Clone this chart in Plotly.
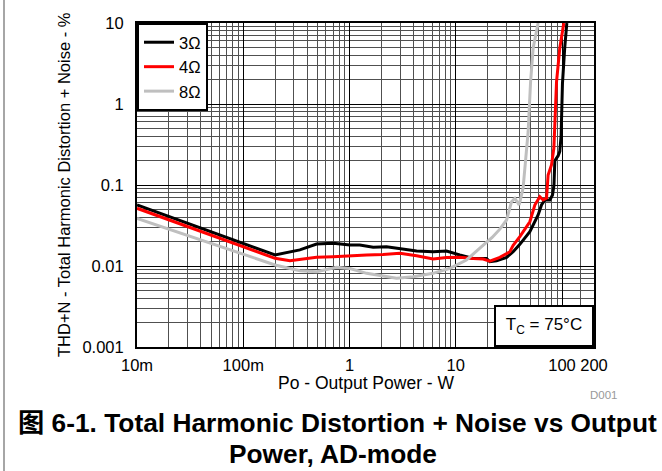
import plotly.graph_objects as go

# ---- data ----
p_3ohm = [0.01, 0.199, 0.341, 0.49, 0.703, 1.01, 1.25, 1.67, 2.23, 2.98, 4.28, 6.12, 8.19,
          10.9, 14.6, 19.5, 20.9, 24.2, 30.1, 34.7, 40.1, 49.8, 59.6, 64.1, 68.9, 76.8,
          81.4, 84.0, 85.6, 92.0, 95.3, 98.0, 101, 106, 111]
thd_3ohm = [0.0566, 0.0137, 0.0158, 0.0187, 0.0191, 0.0182, 0.0182, 0.0170, 0.0173, 0.0165,
            0.0153, 0.0150, 0.0153, 0.0137, 0.0124, 0.0124, 0.0113, 0.0116, 0.0128, 0.0150,
            0.0185, 0.0265, 0.0426, 0.0566, 0.0653, 0.0653, 0.0753, 0.10, 0.20, 0.23, 0.26,
            0.40, 1.8, 4.9, 10.0]

p_4ohm = [0.01, 0.199, 0.275, 0.341, 0.49, 0.703, 1.01, 1.45, 2.07, 2.98, 4.28, 6.12, 8.19,
          10.9, 14.6, 18.1, 20.9, 26.0, 32.3, 34.7, 40.1, 49.8, 55.5, 61.8, 66.4, 71.5,
          74.0, 79.6, 83.8, 88.8, 95.3, 104]
thd_4ohm = [0.0516, 0.01245, 0.0116, 0.0121, 0.0128, 0.0130, 0.0134, 0.0137, 0.0139, 0.0144,
            0.0134, 0.0122, 0.0127, 0.0128, 0.0124, 0.0122, 0.0115, 0.0128, 0.0150, 0.0180,
            0.0230, 0.0352, 0.0566, 0.0717, 0.0653, 0.069, 0.133, 0.177, 0.284, 1.88, 4.91,
            10.0]

p_8ohm = [0.01, 0.199, 0.341, 0.49, 0.756, 1.01, 1.45, 2.07, 2.77, 3.97, 6.12, 8.80, 12.6,
          17.5, 22.0, 26.0, 30.1, 33.5, 36.0, 39.5, 43.0, 48.0, 50.6, 53.5, 59.6]
thd_8ohm = [0.0388, 0.0103, 0.00875, 0.0085, 0.00964, 0.0093, 0.00812, 0.00752, 0.00705,
            0.00738, 0.00812, 0.00937, 0.01186, 0.0173, 0.0225, 0.0285, 0.0370, 0.0622,
            0.0685, 0.0566, 0.091, 0.455, 1.88, 4.91, 10.0]

x_tickvals = [0.01, 0.1, 1, 10, 100, 200]
x_ticktext = ["10m", "100m", "1", "10", "100", "200"]
y_tickvals = [0.001, 0.01, 0.1, 1, 10]
y_ticktext = ["0.001", "0.01", "0.1", "1", "10"]

FONT = "Liberation Sans, Arial, Noto Sans CJK SC, sans-serif"

# plot-area geometry in pixels
L, T, R, B = 137, 23, 594, 347
PW, PH = R - L, B - T


def px_x(x):
    return (x - L) / PW


def px_y(y):
    return (B - y) / PH


x_minor = [m * 10 ** e for e in range(-2, 2) for m in range(2, 10)] + [150]
y_minor = [m * 10 ** e for e in range(-3, 1) for m in range(2, 10)]

fig = go.Figure()
fig.add_trace(go.Scatter(x=p_3ohm, y=thd_3ohm, mode="lines", name="3Ω",
                         line=dict(color="black", width=3)))
fig.add_trace(go.Scatter(x=p_4ohm, y=thd_4ohm, mode="lines", name="4Ω",
                         line=dict(color="#ff0000", width=3)))
fig.add_trace(go.Scatter(x=p_8ohm, y=thd_8ohm, mode="lines", name="8Ω",
                         line=dict(color="#bfbfbf", width=3)))

axis_common = dict(
    showline=True, linecolor="black", linewidth=2, mirror=True,
    showgrid=True, gridcolor="black", gridwidth=1,
    ticks="", zeroline=False,
    tickfont=dict(family=FONT, size=16.5, color="black"),
)

fig.update_xaxes(type="log", range=[-2, 2.30103], tickvals=x_tickvals, ticktext=x_ticktext,
                 minor=dict(tickvals=x_minor, showgrid=True, gridcolor="#505050", gridwidth=1),
                 ticklabelstandoff=2,
                 **axis_common)
fig.update_yaxes(type="log", range=[-3, 1], tickvals=y_tickvals, ticktext=y_ticktext,
                 minor=dict(tickvals=y_minor, showgrid=True, gridcolor="#505050", gridwidth=1),
                 ticklabelstandoff=8,
                 **axis_common)

fig.update_layout(
    width=662, height=471,
    margin=dict(l=L, r=662 - R, t=T, b=471 - B),
    paper_bgcolor="white", plot_bgcolor="white",
    font=dict(family=FONT, color="black"),
    showlegend=True,
    legend=dict(x=0, y=1, xanchor="left", yanchor="top", bgcolor="white",
                bordercolor="black", borderwidth=2,
                font=dict(family=FONT, size=16.5, color="black"),
                tracegroupgap=0, itemwidth=30),
    annotations=[
        dict(text="T<sub>C</sub> = 75°C", x=1, y=0, xref="paper", yref="paper",
             xanchor="right", yanchor="bottom", showarrow=False,
             bgcolor="white", bordercolor="black", borderwidth=2, borderpad=2,
             width=92, height=34, align="center",
             font=dict(family=FONT, size=17, color="black")),
        dict(text="D001", x=px_x(604), y=px_y(395), xref="paper", yref="paper",
             xanchor="center", yanchor="middle", showarrow=False,
             font=dict(family=FONT, size=11.5, color="#999999")),
        dict(text="Po - Output Power - W", x=px_x(366), y=px_y(383), xref="paper", yref="paper",
             xanchor="center", yanchor="middle", showarrow=False,
             font=dict(family=FONT, size=17.5, color="black")),
        dict(text="THD+N - Total Harmonic Distortion + Noise - %", x=px_x(64), y=px_y(185),
             xref="paper", yref="paper", textangle=-90,
             xanchor="center", yanchor="middle", showarrow=False,
             font=dict(family=FONT, size=16.5, color="black")),
        dict(text="<b>图 6-1. Total Harmonic Distortion + Noise vs Output</b>",
             x=px_x(337), y=px_y(423), xref="paper", yref="paper",
             xanchor="center", yanchor="middle", showarrow=False,
             font=dict(family=FONT, size=26.3, color="black")),
        dict(text="<b>Power, AD-mode</b>",
             x=px_x(333), y=px_y(454), xref="paper", yref="paper",
             xanchor="center", yanchor="middle", showarrow=False,
             font=dict(family=FONT, size=26.3, color="black")),
    ],
    shapes=[
        dict(type="line", xref="paper", yref="paper", x0=px_x(4), x1=px_x(4),
             y0=px_y(471), y1=px_y(0), line=dict(color="#888888", width=1.5)),
    ],
)

fig.write_html("out.html", config={"displayModeBar": False},
               post_script="document.body.style.margin='0';")
